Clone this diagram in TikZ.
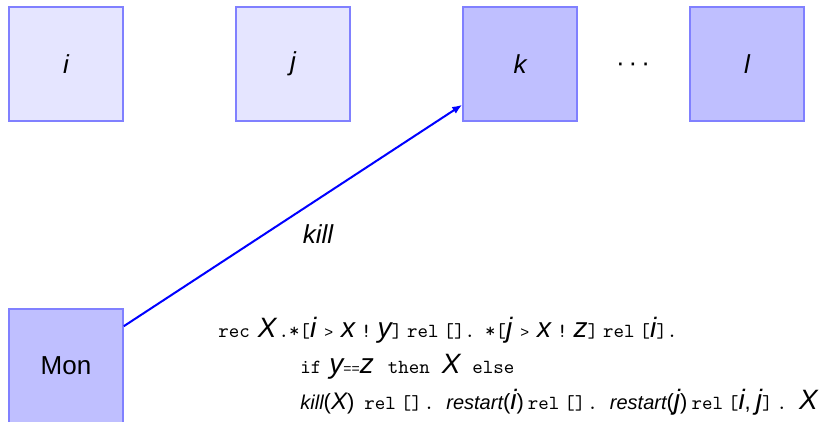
\documentclass[tikz,border=0pt]{standalone}
\usepackage{fontspec}
\usetikzlibrary{arrows.meta}
\newfontfamily\lsans{Liberation Sans}
\newcommand\Vb[1]{{\fontsize{14}{14}\selectfont\lsans\itshape #1}}
\newcommand\Vs[1]{{\fontsize{10}{10}\selectfont\lsans\itshape #1}}
\newcommand\Vm[1]{{\fontsize{12}{12}\selectfont\lsans\itshape #1}}
\newcommand\Ss[1]{{\fontsize{11}{11}\selectfont\lsans #1}}
\newcommand\Tt[1]{{\fontsize{10}{10}\selectfont\ttfamily #1}}
\newcommand\Gt{{\fontsize{7.5}{7.5}\selectfont\lsans >}}
\newcommand\Eq{{\fontsize{7}{7}\selectfont\lsans ==}}
\newcommand\g{\hspace{2.5pt}}
\tikzset{
  proc/.style={draw=blue!50, line width=0.8pt, minimum size=57pt, inner sep=0pt,
    font=\fontsize{13}{13}\selectfont\lsans},
  procl/.style={proc, fill=blue!10},
  procd/.style={proc, fill=blue!25},
  code/.style={anchor=base west, inner sep=0pt},
  link/.style={draw=blue, line width=1pt, -{Latex[length=5pt,width=4pt]}}
}
\begin{document}
\begin{tikzpicture}[x=0.5pt,y=-0.5pt]
\useasboundingbox (0,0) rectangle (824,422);
\node[procl] (i) at (66,64) {\itshape i};
\node[procl] (j) at (293,64) {\itshape j};
\node[procd] (k) at (520,64) {\itshape k};
\node[inner sep=0pt, font=\fontsize{13}{13}\selectfont\lsans] (dots) at (633,67) {·\hspace{2pt}·\hspace{2pt}·};
\node[procd] (l) at (747,64) {\itshape l};
\node[procd] (mon) at (66,366) {Mon};
\draw[link] ([yshift=-9pt]mon.north east) -- ([yshift=8.5pt]k.south west);
\node[anchor=base, inner sep=0pt, font=\fontsize{13}{13}\selectfont\lsans\itshape] (kill) at (318,243) {kill};
\node[code] (l1) at (218,337) {\Tt{rec}\hspace{4pt}\Vb{X}\hspace{1pt}\Tt{.*[}\Vb{i}\hspace{4pt}\Gt\hspace{4pt}\Vb{x}\hspace{3pt}\Tt{!}\hspace{3pt}\Vb{y}\Tt{]}\g\Tt{rel}\g\Tt{[].}\hspace{5pt}\Tt{*[}\Vb{j}\hspace{4pt}\Gt\hspace{4pt}\Vb{x}\hspace{3pt}\Tt{!}\hspace{3pt}\Vb{z}\Tt{]}\g\Tt{rel}\g\Tt{[}\Vb{i}\Tt{].}};
\node[code] (l2) at (300,373) {\Tt{if}\hspace{4pt}\Vb{y}\Eq\Vb{z}\hspace{7pt}\Tt{then}\hspace{6pt}\Vb{X}\hspace{6pt}\Tt{else}};
\node[code] (l3) at (300,409) {\Vs{kill}\Ss{(}\Vm{X}\Ss{)}\hspace{5pt}\Tt{rel}\g\Tt{[]}\hspace{1pt}\Tt{.}\hspace{6pt}\Vs{restart}\Ss{(}\Vb{i}\Ss{)}\hspace{2pt}\Tt{rel}\g\Tt{[]}\hspace{1pt}\Tt{.}\hspace{6pt}\Vs{restart}\Ss{(}\Vb{j}\Ss{)}\hspace{2pt}\Tt{rel}\g\Tt{[}\Vb{i}\Ss{,}\g\Vb{j}\Tt{]}\hspace{2pt}\Tt{.}\hspace{6pt}\Vb{X}};
\end{tikzpicture}
\end{document}
